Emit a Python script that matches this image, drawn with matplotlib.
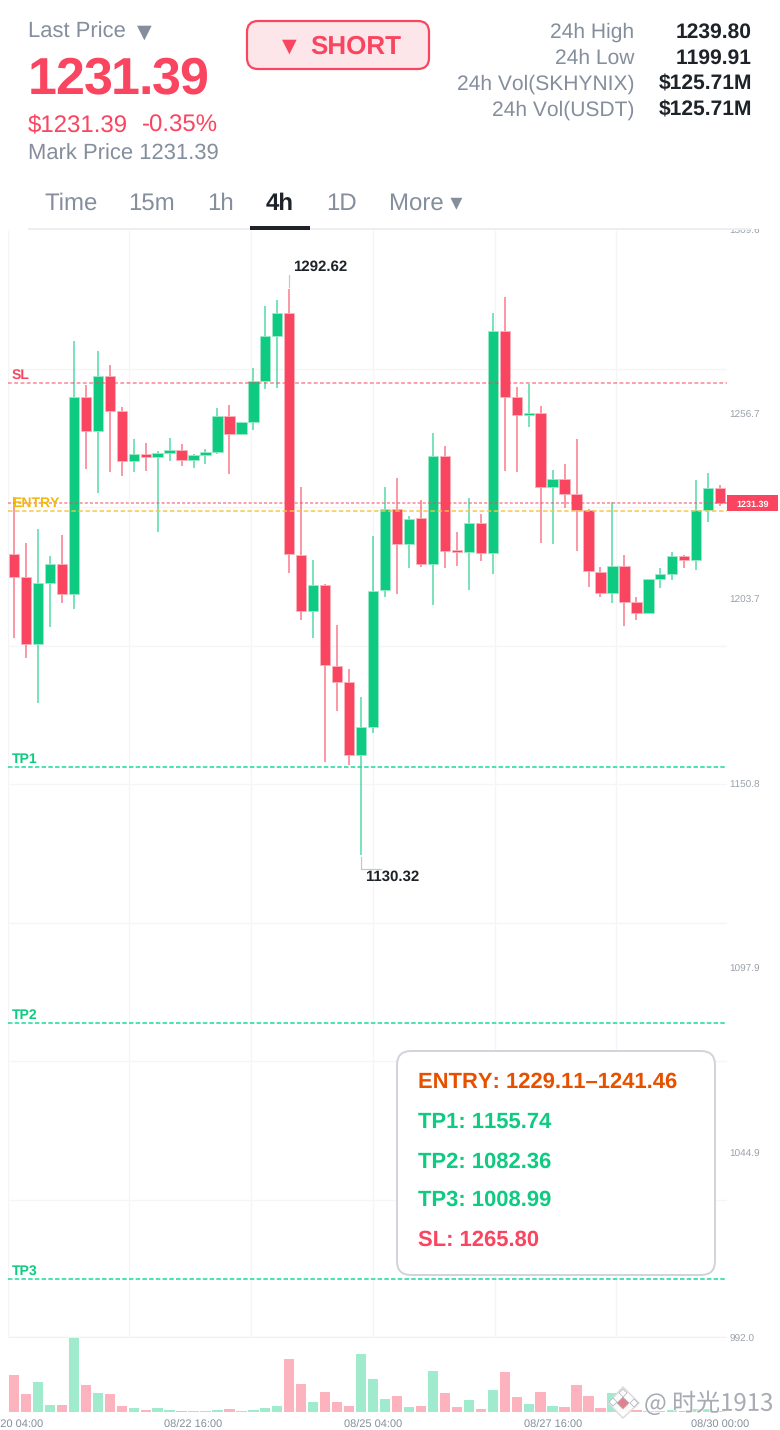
import matplotlib
matplotlib.use('Agg')
import matplotlib.pyplot as plt
import matplotlib.patheffects as pe
from matplotlib.patches import FancyBboxPatch, Polygon, Rectangle
import numpy as np

plt.rcParams['font.family'] = ['Liberation Sans', 'DejaVu Sans']
plt.rcParams['text.hinting'] = 'none'
plt.rcParams['text.kerning_factor'] = 6

GREEN = '#0ecb81'
RED = '#f9455f'
GRAY = '#848e9c'
DARK = '#1e2329'
GRID = '#f4f5f6'

# 4h candles
highs = [1233.1, 1219.9, 1224.0, 1216.2, 1222.2, 1277.8, 1265.2, 1274.8, 1270.9, 1258.8, 1249.6, 1248.5, 1246.2, 1250.0, 1248.3,
         1245.4, 1246.8, 1258.5, 1259.5, 1254.6, 1270.1, 1287.9, 1289.5, 1292.62, 1235.8, 1215.0, 1208.1, 1196.4, 1183.9, 1175.8,
         1221.9, 1236.0, 1238.6, 1227.5, 1232.2, 1251.4, 1247.7, 1223.0, 1232.9, 1228.2, 1285.7, 1290.5, 1264.5, 1265.5, 1259.2,
         1240.7, 1242.6, 1249.7, 1229.6, 1213.0, 1231.6, 1216.4, 1204.4, 1209.6, 1212.7, 1217.3, 1216.3, 1238.0, 1239.9, 1236.4]
opens = [1216.8, 1210.1, 1190.8, 1208.5, 1213.8, 1205.2, 1261.7, 1252.1, 1267.8, 1257.7, 1243.3, 1245.4, 1244.6, 1245.6, 1246.4,
         1243.7, 1245.1, 1246.0, 1256.2, 1251.1, 1254.7, 1266.4, 1279.2, 1285.8, 1216.5, 1200.5, 1207.9, 1184.7, 1180.1, 1159.1,
         1167.0, 1206.4, 1229.7, 1219.7, 1227.0, 1213.8, 1244.8, 1217.7, 1217.3, 1225.7, 1217.1, 1280.7, 1261.7, 1256.6, 1257.2,
         1236.0, 1238.3, 1234.0, 1229.4, 1211.7, 1205.6, 1213.3, 1202.9, 1199.7, 1209.6, 1210.9, 1216.2, 1215.1, 1229.4, 1235.7]
closes = [1210.2, 1190.8, 1208.5, 1213.8, 1205.2, 1261.7, 1252.1, 1267.8, 1257.7, 1243.4, 1245.4, 1244.6, 1245.6, 1246.4, 1243.7,
          1245.1, 1245.9, 1256.2, 1251.1, 1254.6, 1266.2, 1279.1, 1285.8, 1216.6, 1200.5, 1207.9, 1184.9, 1180.1, 1159.2, 1167.0,
          1206.2, 1229.7, 1219.7, 1226.9, 1213.8, 1244.8, 1217.7, 1217.3, 1225.7, 1217.1, 1280.7, 1261.8, 1256.6, 1257.2, 1235.9,
          1238.2, 1234.0, 1229.4, 1211.8, 1205.6, 1213.3, 1203.0, 1199.7, 1209.6, 1210.9, 1216.2, 1215.1, 1229.2, 1235.7, 1231.39]
lows = [1192.7, 1187.0, 1174.1, 1195.9, 1202.8, 1201.1, 1241.2, 1234.3, 1240.3, 1239.2, 1240.3, 1240.6, 1223.0, 1243.5, 1242.0,
        1241.5, 1242.6, 1245.4, 1239.8, 1250.8, 1252.2, 1264.1, 1264.4, 1211.4, 1197.7, 1192.7, 1157.2, 1171.6, 1156.3, 1130.32,
        1165.4, 1204.5, 1205.2, 1212.6, 1213.1, 1202.2, 1212.8, 1213.4, 1206.5, 1214.8, 1210.9, 1240.5, 1240.3, 1253.2, 1220.0,
        1219.7, 1230.0, 1217.7, 1207.4, 1204.5, 1202.7, 1196.1, 1197.8, 1199.7, 1207.1, 1209.3, 1212.6, 1212.2, 1225.8, 1230.5]
volumes = [37, 18, 29.7, 7.3, 6.7, 74, 26.7, 19, 18, 5.7, 4, 2, 3.7, 1.7, 1,
           0.7, 1, 1.7, 3, 1, 2.3, 4, 6, 52.7, 28.3, 9.7, 20, 10, 6, 58,
           33, 12.7, 16, 4.7, 6, 41.3, 18.7, 5, 12, 3.3, 22.3, 39.7, 15.3, 7.7, 19.7,
           6, 4.7, 26.7, 16, 4.3, 19, 7, 2, 1, 1, 1.7, 1, 2.7, 2.7, 1]

price_ticks = [1309.6, 1256.7, 1203.7, 1150.8, 1097.9, 1044.9, 992.0]
grid_prices = [1269.9, 1230.2, 1190.5, 1150.8, 1111.1, 1071.4, 1031.7]
grid_candles = [-0.5, 9.65, 19.82, 29.99, 40.16, 50.32]
date_ticks = [0, 15, 30, 45, 59]
date_labels = ['08/20 04:00', '08/22 16:00', '08/25 04:00', '08/27 16:00', '08/30 00:00']

last_price = 1231.39
entry_low = 1229.11
sl_price = 1265.80
tp_prices = [1155.74, 1082.36, 1008.99]
tp_names = ['TP1', 'TP2', 'TP3']
box_rows = ['ENTRY: 1229.11–1241.46', 'TP1: 1155.74', 'TP2: 1082.36', 'TP3: 1008.99', 'SL: 1265.80']
box_colors = ['#e65100', GREEN, GREEN, GREEN, RED]
box_y = [1081, 1120.5, 1160.7, 1198.7, 1238.7]

stat_names = ['24h High', '24h Low', '24h Vol(SKHYNIX)', '24h Vol(USDT)']
stat_values = ['1239.80', '1199.91', '$125.71M', '$125.71M']
stat_y = [31, 57, 83, 109]
tabs = ['Time', '15m', '1h', '4h', '1D', 'More ▾']
tab_x = [44, 128, 207, 266, 326, 389]

W, H = 780, 1430


def px(v):
    # css pixels to points at dpi 100
    return v * 0.72


def box(left, top, right, bottom):
    return [left / W, 1 - bottom / H, (right - left) / W, (bottom - top) / H]


fig = plt.figure(figsize=(W / 100, H / 100), dpi=100, facecolor='white')
ax = fig.add_axes(box(8, 230, 727, 1338))
ax_vol = fig.add_axes(box(8, 1338, 727, 1412))

x = np.arange(len(closes))
o = np.array(opens)
c = np.array(closes)
up = c >= o
colors = np.where(up, GREEN, RED)
edges = np.where(up, '#9fe9cc', '#fcb3bd')

# price pane
ax.hlines(grid_prices, -0.5, 59.57, color=GRID, lw=px(1.2), zorder=1)
ax.hlines(992.0, -0.5, 59.57, color='#f0f1f3', lw=px(2.5), zorder=1, clip_on=False)
ax.vlines(grid_candles, 992, 1309.6, color=GRID, lw=px(1.2), zorder=1)

ax.vlines(x, lows, highs, colors=colors, lw=px(1.5), alpha=0.72, zorder=2)
ax.bar(x, np.maximum(np.abs(c - o), 0.5), bottom=np.minimum(o, c), width=0.86, color=colors,
       edgecolor=edges, linewidth=px(0.8), zorder=3)

ax.axhline(sl_price, color=RED, lw=px(1.6), dashes=(2.4, 1.5), alpha=0.62, zorder=4)
ax.axhline(last_price, color=RED, lw=px(1.6), dashes=(1.9, 1.3), alpha=0.62, zorder=4)
ax.axhline(entry_low, color='#f5c542', lw=px(1.6), dashes=(2.8, 1.6), alpha=0.9, zorder=4)
for p in tp_prices:
    ax.axhline(p, color='#25dba0', lw=px(1.6), dashes=(2.8, 1.4), zorder=4)

label_style = dict(xycoords=('axes fraction', 'data'), textcoords='offset points', fontsize=px(14),
                   fontweight='bold', va='bottom', zorder=5)
ax.annotate('SL', (0, sl_price), xytext=(px(4), px(1)), color=RED, **label_style)
ax.annotate('ENTRY', (0, entry_low), xytext=(px(4), px(1)), color='#f0b90b', **label_style)
for name, p in zip(tp_names, tp_prices):
    ax.annotate(name, (0, p), xytext=(px(4), px(1)), color=GREEN, **label_style)

ax.set_xlim(-0.5, 59.57)
ax.set_ylim(992, 1309.6)
ax.set_xticks([])
ax.yaxis.tick_right()
ax.set_yticks(price_ticks)
ax.set_yticklabels(['%.1f' % t for t in price_ticks], va='center_baseline')
ax.tick_params(axis='y', length=0, pad=px(2.5), labelsize=px(10), labelcolor='#9aa0ab')
for s in ax.spines.values():
    s.set_visible(False)

# volume pane
ax_vol.bar(x, volumes, width=0.86, color=np.where(up, '#a0ebce', '#fdb3bd'), zorder=2)
ax_vol.set_xlim(-0.5, 59.57)
ax_vol.set_ylim(0, 74)
ax_vol.set_yticks([])
ax_vol.set_xticks(date_ticks)
ax_vol.set_xticklabels(date_labels)
ax_vol.tick_params(axis='x', length=0, pad=px(8), labelsize=px(11), labelcolor=GRAY)
for s in ax_vol.spines.values():
    s.set_visible(False)

# everything that is page furniture goes on a pixel overlay
ui = fig.add_axes([0, 0, 1, 1], zorder=10)
ui.set_xlim(0, W)
ui.set_ylim(H, 0)
ui.axis('off')
ui.patch.set_alpha(0)


def label(tx, ty, s, size, color, **kw):
    # ty is the middle of the capitals
    return ui.text(tx, ty + 0.33 * size, s, fontsize=px(size), color=color, va='baseline', **kw)


ui.add_patch(Rectangle((0, 0), W, 229, color='white', lw=0))
ui.add_patch(Rectangle((28, 228), 724, 2, color='#eceef0', lw=0))
ui.add_patch(Rectangle((250, 226), 60, 4, color=DARK, lw=0))

label(28, 31, 'Last Price', 22, GRAY)
label(132, 31, '▼', 25, GRAY)

# the big price has negative letter spacing
cx = 28
for ch in '1231.39':
    label(cx, 76.7, ch, 52, RED, fontweight='bold')
    cx += (0.278 if ch == '.' else 0.556) * 52 - 1.25

label(28, 124, '$1231.39', 24, RED)
label(142, 124, '-0.35%', 24, RED)
label(28, 152.5, 'Mark Price 1231.39', 22, GRAY)

ui.add_patch(FancyBboxPatch((247, 21), 182, 48, boxstyle='round,pad=0,rounding_size=11',
                            fc='#fde6e9', ec=RED, lw=px(2.2)))
label(277, 45.5, '▼', 25, RED)
label(310, 45, 'SHORT', 26, RED, fontweight='bold')

for name, val, y in zip(stat_names, stat_values, stat_y):
    label(634, y, name, 21, GRAY, ha='right')
    label(752, y, val, 21, DARK, fontweight='bold', ha='right')

for t, tx in zip(tabs, tab_x):
    active = t == '4h'
    label(tx, 202, t, 24, DARK if active else GRAY, fontweight='bold' if active else 'normal')

# high / low markers
ui.plot([289, 289], [275, 287], color='#c4c6cc', lw=px(1.2))
label(293, 266, '1292.62', 15, DARK, fontweight='bold')
ui.plot([361, 361, 381], [857, 869, 869], color='#c4c6cc', lw=px(1.2))
label(365, 876, '1130.32', 15, DARK, fontweight='bold')

# last price tag
ui.add_patch(Rectangle((727, 495), 51, 16, color=RED, lw=0))
label(752.5, 503.5, '1231.39', 9, 'white', fontweight='bold', ha='center')

# levels box
ui.add_patch(FancyBboxPatch((397, 1051), 318, 224, boxstyle='round,pad=0,rounding_size=14',
                            fc='white', ec='#d3d4da', lw=px(2)))
for row, col, y in zip(box_rows, box_colors, box_y):
    label(418, y, row, 22, col, fontweight='bold')

# watermark
ui.add_patch(Polygon([(623, 1387), (639, 1403), (623, 1418), (608, 1403)], closed=True,
                     fc='white', ec='#d8d8dc', lw=px(1.5), alpha=0.9))
for wx, wy, r, col in [(613, 1402, 4, '#ffffff'), (634, 1403, 4, '#ffffff'), (623, 1393, 4, '#ffffff'),
                       (623, 1403, 6, '#e2808c')]:
    ui.add_patch(Polygon([(wx, wy - r), (wx + r, wy), (wx, wy + r), (wx - r, wy)], closed=True,
                         fc=col, ec='#b4b7bd', lw=px(0.8)))
mark = ui.text(644, 1404, '@ 时光1913', fontsize=px(24), color='#a8abb3', va='center',
               family=['Noto Sans CJK SC', 'DejaVu Sans'])
mark.set_path_effects([pe.withStroke(linewidth=px(2), foreground='white', alpha=0.7)])

fig.savefig('out.png', dpi=100)
